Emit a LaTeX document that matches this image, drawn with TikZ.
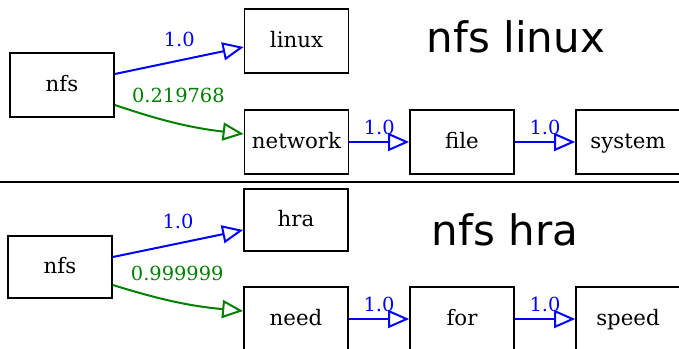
\documentclass[tikz,border=0pt]{standalone}
\usepackage{fontspec}
\setmainfont{DejaVu Serif}
\newfontfamily\titlefont{DejaVu Sans}
\usetikzlibrary{arrows.meta,calc}

\begin{document}
\begin{tikzpicture}[x=1pt,y=-1pt,>={Triangle[open,length=21pt,width=18pt]},
    box/.style={draw,line width=1.7pt,minimum width=104pt,minimum height=64pt,
        text height=15.5pt,text depth=3.5pt,font=\fontsize{21.3}{24}\selectfont},
    wlabel/.style={inner sep=0pt,font=\fontsize{19.4}{22}\selectfont},
    bluearr/.style={->,blue,line width=2pt},
    greenarr/.style={->,green!50!black,line width=2pt}]

    \useasboundingbox (0,0) rectangle (679,348);

    % nfs linux
    \node[box] (nfsA) at (62,85) {nfs};
    \node[box] (linux) at (296.5,41) {linux};
    \node[box] (network) at (296.5,142) {network};
    \node[box] (file) at (462,142) {file};
    \node[box] (system) at (628,142) {system};
    \node[anchor=base,font=\titlefont\fontsize{42}{48}\selectfont] (titleA) at (516,52) {nfs linux};

    \draw[bluearr] ([yshift=11pt]nfsA.east) -- node[wlabel,above=12.5pt,blue] {1.0} ([yshift=-6pt]linux.west);
    \draw[greenarr] ([yshift=-20pt]nfsA.east) to[bend right=6] node[wlabel,above=19.5pt,green!50!black] {0.219768} ([yshift=8pt]network.west);
    \draw[bluearr] (network) -- node[wlabel,above=6.5pt,blue] {1.0} (file);
    \draw[bluearr] (file) -- node[wlabel,above=6.5pt,blue] {1.0} (system);

    \draw[line width=2.5pt] (0,182) -- (679,182);

    % nfs hra
    \node[box,minimum height=62pt] (nfsB) at (60,267) {nfs};
    \node[box,minimum height=62pt] (hra) at (296,220) {hra};
    \node[box] (need) at (296,319) {need};
    \node[box] (for) at (462,319) {for};
    \node[box] (speed) at (628,319) {speed};
    \node[anchor=base,font=\titlefont\fontsize{42}{48}\selectfont] (titleB) at (505,245) {nfs hra};

    \draw[bluearr] ([yshift=10pt]nfsB.east) -- node[wlabel,above=13.5pt,blue] {1.0} ([yshift=-10pt]hra.west);
    \draw[greenarr] ([yshift=-18pt]nfsB.east) to[bend right=6] node[wlabel,above=20.5pt,green!50!black] {0.999999} ([yshift=8pt]need.west);
    \draw[bluearr] (need) -- node[wlabel,above=6pt,blue] {1.0} (for);
    \draw[bluearr] (for) -- node[wlabel,above=6pt,blue] {1.0} (speed);

\end{tikzpicture}
\end{document}
